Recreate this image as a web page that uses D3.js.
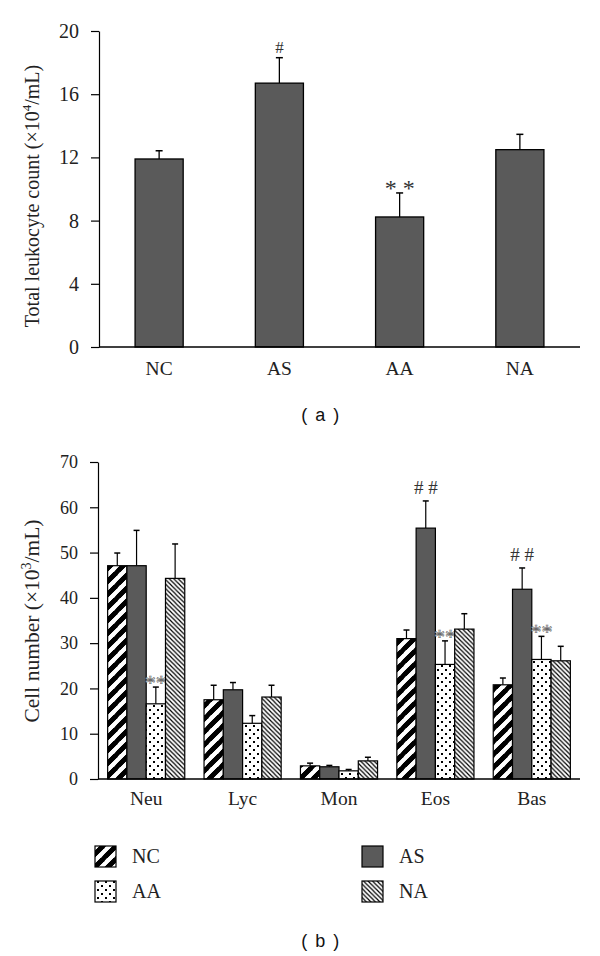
<!DOCTYPE html>
<html><head><meta charset="utf-8">
<script src="https://cdn.jsdelivr.net/npm/d3@7"></script>
<style>body{margin:0;background:#fff}</style>
</head><body><svg id="c" width="600" height="956"></svg>
<script>
// ---- Panel (a) data ----
const groupsA = ["NC", "AS", "AA", "NA"];
const valuesA = [11.9, 16.7, 8.23, 12.49];
const errorsA = [0.52, 1.61, 1.52, 0.97];
const marksA = ["", "#", "* *", ""];
const ticksA = [0, 4, 8, 12, 16, 20];

// ---- Panel (b) data ----
const cellTypes = ["Neu", "Lyc", "Mon", "Eos", "Bas"];
const seriesB = ["NC", "AS", "AA", "NA"];
const valuesNC = [47.1, 17.5, 2.9, 31.0, 20.8];
const valuesAS = [47.1, 19.7, 2.7, 55.4, 41.9];
const valuesAA = [16.6, 12.3, 1.8, 25.3, 26.4];
const valuesNA = [44.3, 18.1, 4.0, 33.1, 26.1];
const errNC = [2.8, 3.2, 0.6, 1.9, 1.5];
const errAS = [7.8, 1.6, 0.3, 6.0, 4.7];
const errAA = [3.7, 1.7, 0.3, 5.2, 5.1];
const errNA = [7.6, 2.6, 0.8, 3.4, 3.2];
const marksNC = ["", "", "", "", ""];
const marksAS = ["", "", "", "# #", "# #"];
const marksAA = ["**", "", "", "**", "**"];
const marksNA = ["", "", "", "", ""];
const ticksB = [0, 10, 20, 30, 40, 50, 60, 70];

const svg = d3.select("#c");
const SERIF = "'Liberation Serif','Times New Roman',serif";
const SANS = "'Liberation Sans',Arial,sans-serif";
const DARK = "#5a5a5a";

// ---- patterns ----
const defs = svg.append("defs");
const pNC = defs.append("pattern").attr("id", "pNC").attr("patternUnits", "userSpaceOnUse")
  .attr("width", 13).attr("height", 13);
pNC.append("rect").attr("width", 13).attr("height", 13).attr("fill", "#fff");
[[-13, 13, 0, 0], [0, 13, 13, 0], [13, 13, 26, 0], [-13, 26, 13, 0], [0, 26, 26, 0], [-13, 13, 13, -13], [0, 13, 26, -13]]
  .forEach(d => pNC.append("line").attr("x1", d[0]).attr("y1", d[1]).attr("x2", d[2]).attr("y2", d[3])
    .attr("stroke", "#000").attr("stroke-width", 4.5));
const pAA = defs.append("pattern").attr("id", "pAA").attr("patternUnits", "userSpaceOnUse")
  .attr("width", 8).attr("height", 8);
pAA.append("rect").attr("width", 8).attr("height", 8).attr("fill", "#fff");
pAA.append("rect").attr("x", 1).attr("y", 1).attr("width", 2).attr("height", 2).attr("fill", "#000");
pAA.append("rect").attr("x", 5).attr("y", 5).attr("width", 2).attr("height", 2).attr("fill", "#000");
const pNA = defs.append("pattern").attr("id", "pNA").attr("patternUnits", "userSpaceOnUse")
  .attr("width", 4.5).attr("height", 4.5);
pNA.append("rect").attr("width", 4.5).attr("height", 4.5).attr("fill", "#fff");
[[-4.5, 0, 4.5, 9], [-4.5, -4.5, 9, 9], [0, -4.5, 9, 4.5]].forEach(d =>
  pNA.append("line").attr("x1", d[0]).attr("y1", d[1]).attr("x2", d[2]).attr("y2", d[3])
    .attr("stroke", "#000").attr("stroke-width", 1.2));
const fills = { NC: "url(#pNC)", AS: DARK, AA: "url(#pAA)", NA: "url(#pNA)" };

function styleAxis(size) {
  return g => {
    g.selectAll("path,line").attr("stroke", "#000").attr("stroke-width", 1.2);
    g.selectAll("text").attr("font-family", SERIF).attr("font-size", size).attr("fill", "#222");
  };
}

// ================= Panel (a) =================
const xA = d3.scaleBand().domain(groupsA).range([99, 580]).paddingInner(0.6).paddingOuter(0.3);
const yA = d3.scaleLinear().domain([0, 20]).range([347, 31]);

svg.append("g").attr("transform", "translate(99,0)")
  .call(d3.axisLeft(yA).tickValues(ticksA).tickSize(8).tickSizeOuter(0).tickPadding(12))
  .call(styleAxis(20));

const gA = svg.append("g");
groupsA.forEach((g, i) => {
  const x = xA(g), w = xA.bandwidth(), cx = x + w / 2;
  const top = yA(valuesA[i] + errorsA[i]);
  gA.append("line").attr("x1", cx).attr("x2", cx).attr("y1", yA(valuesA[i])).attr("y2", top)
    .attr("stroke", "#000").attr("stroke-width", 1.3);
  gA.append("line").attr("x1", cx - 3.5).attr("x2", cx + 3.5).attr("y1", top).attr("y2", top)
    .attr("stroke", "#000").attr("stroke-width", 1.5);
  gA.append("rect").attr("x", x).attr("y", yA(valuesA[i])).attr("width", w)
    .attr("height", yA(0) - yA(valuesA[i])).attr("fill", DARK).attr("stroke", "#000").attr("stroke-width", 1.3);
  if (marksA[i]) {
    const isStar = marksA[i].includes("*");
    gA.append("text").attr("x", cx).attr("y", isStar ? top + 3 : top - 5)
      .attr("text-anchor", "middle").attr("font-family", SERIF)
      .attr("font-size", isStar ? 24 : 17).attr("fill", "#333").text(marksA[i]);
  }
  svg.append("text").attr("x", cx).attr("y", 375).attr("text-anchor", "middle")
    .attr("font-family", SERIF).attr("font-size", 19.5).attr("fill", "#222").text(g);
});
svg.append("line").attr("x1", 99).attr("x2", 580).attr("y1", yA(0)).attr("y2", yA(0))
  .attr("stroke", "#000").attr("stroke-width", 1.3);

const labA = svg.append("text").attr("transform", "translate(39,196) rotate(-90)")
  .attr("text-anchor", "middle").attr("font-family", SERIF).attr("font-size", 20).attr("fill", "#222");
labA.append("tspan").text("Total leukocyte count (\u00d710");
labA.append("tspan").attr("font-size", 13).attr("dy", -8).text("4");
labA.append("tspan").attr("dy", 8).text("/mL)");

svg.append("text").attr("x", 321).attr("y", 421).attr("text-anchor", "middle")
  .attr("font-family", SANS).attr("font-size", 18).attr("letter-spacing", 1.5)
  .attr("fill", "#111").text("( a )");

// ================= Panel (b) =================
const valsB = { NC: valuesNC, AS: valuesAS, AA: valuesAA, NA: valuesNA };
const errsB = { NC: errNC, AS: errAS, AA: errAA, NA: errNA };
const marksB = { NC: marksNC, AS: marksAS, AA: marksAA, NA: marksNA };

const x0 = d3.scaleBand().domain(cellTypes).range([98, 580]).paddingInner(0.2).paddingOuter(0.1);
const x1 = d3.scaleBand().domain(seriesB).range([0, x0.bandwidth()]);
const yB = d3.scaleLinear().domain([0, 70]).range([779, 462]);

svg.append("g").attr("transform", "translate(98,0)")
  .call(d3.axisLeft(yB).tickValues(ticksB).tickSize(8).tickSizeOuter(0).tickPadding(12))
  .call(styleAxis(18));

const gB = svg.append("g");
cellTypes.forEach((c, j) => {
  seriesB.forEach(s => {
    const v = valsB[s][j], e = errsB[s][j];
    const x = x0(c) + x1(s), w = x1.bandwidth(), cx = x + w / 2;
    const top = yB(v + e);
    gB.append("line").attr("x1", cx).attr("x2", cx).attr("y1", yB(v)).attr("y2", top)
      .attr("stroke", "#000").attr("stroke-width", 1.2);
    gB.append("line").attr("x1", cx - 3).attr("x2", cx + 3).attr("y1", top).attr("y2", top)
      .attr("stroke", "#000").attr("stroke-width", 1.5);
    gB.append("rect").attr("x", x).attr("y", yB(v)).attr("width", w).attr("height", yB(0) - yB(v))
      .attr("fill", fills[s]).attr("stroke", "#000").attr("stroke-width", 1.2);
    const m = marksB[s][j];
    if (m) {
      const isStar = m.includes("*");
      gB.append("text").attr("x", cx).attr("y", isStar ? top + 3 : top - 7)
        .attr("text-anchor", "middle").attr("font-family", SERIF)
        .attr("font-size", isStar ? 22 : 19).attr("fill", isStar ? "#fff" : "#333")
        .attr("stroke", isStar ? "#666" : "none").attr("stroke-width", isStar ? 0.6 : 0)
        .text(m);
    }
  });
  svg.append("text").attr("x", x0(c) + x0.bandwidth() / 2).attr("y", 805).attr("text-anchor", "middle")
    .attr("font-family", SERIF).attr("font-size", 19.5).attr("fill", "#222").text(c);
});
svg.append("line").attr("x1", 98).attr("x2", 580).attr("y1", yB(0)).attr("y2", yB(0))
  .attr("stroke", "#000").attr("stroke-width", 1.3);

const labB = svg.append("text").attr("transform", "translate(39,621) rotate(-90)")
  .attr("text-anchor", "middle").attr("font-family", SERIF).attr("font-size", 21.5).attr("fill", "#222");
labB.append("tspan").text("Cell number (\u00d710");
labB.append("tspan").attr("font-size", 14).attr("dy", -8).text("3");
labB.append("tspan").attr("dy", 8).text("/mL)");

// legend
const legendPos = { NC: [95, 846], AS: [362, 846], AA: [95, 881], NA: [362, 881] };
seriesB.forEach(s => {
  const [lx, ly] = legendPos[s];
  svg.append("rect").attr("x", lx).attr("y", ly).attr("width", 21).attr("height", 21)
    .attr("fill", fills[s]).attr("stroke", "#000").attr("stroke-width", 1.2);
  svg.append("text").attr("x", lx + 37).attr("y", ly + 17).attr("font-family", SERIF)
    .attr("font-size", 20).attr("fill", "#222").text(s);
});

svg.append("text").attr("x", 321).attr("y", 947).attr("text-anchor", "middle")
  .attr("font-family", SANS).attr("font-size", 18).attr("letter-spacing", 1.5)
  .attr("fill", "#111").text("( b )");
</script></body></html>
